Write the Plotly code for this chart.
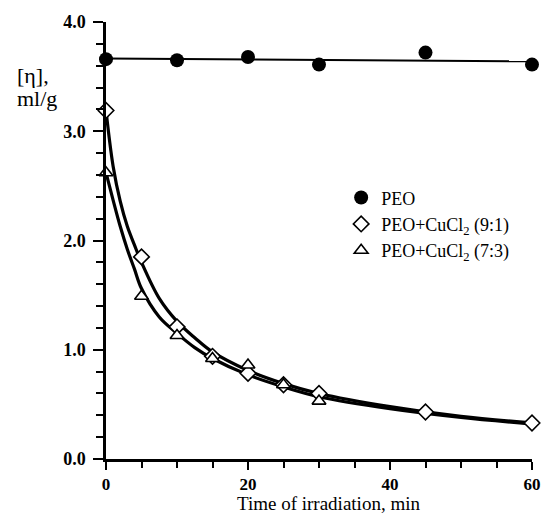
import plotly.graph_objects as go

# ---- data ----
peo_t = [0, 10, 20, 30, 45, 60]
peo_v = [3.66, 3.65, 3.68, 3.61, 3.72, 3.61]
peo_fit_t = [0, 60]
peo_fit_v = [3.665, 3.64]

c91_t = [0, 5, 10, 15, 20, 25, 30, 45, 60]
c91_v = [3.19, 1.85, 1.21, 0.94, 0.785, 0.68, 0.60, 0.43, 0.33]

c73_t = [0, 5, 10, 15, 20, 25, 30]
c73_v = [2.62, 1.49, 1.13, 0.92, 0.86, 0.68, 0.53]

# fitted curves
fit_t = [0, 1, 2, 3, 4, 5, 7.5, 10, 12.5, 15, 20, 25, 30, 40, 50, 60]
fit91_v = [3.19, 2.68, 2.36, 2.13, 1.96, 1.80, 1.47, 1.26, 1.11, 0.98, 0.81, 0.69, 0.60, 0.48, 0.39, 0.33]
fit73_v = [2.62, 2.37, 2.13, 1.92, 1.74, 1.56, 1.30, 1.15, 1.02, 0.92, 0.77, 0.66, 0.57, 0.46, 0.38, 0.32]

x_ticks = [0, 20, 40, 60]
y_ticks = [0, 1, 2, 3, 4]

names = ["PEO", "PEO+CuCl<sub>2</sub> (9:1)", "PEO+CuCl<sub>2</sub> (7:3)"]

SERIF = "Liberation Serif"

fig = go.Figure()

# lines
fig.add_trace(go.Scatter(x=peo_fit_t, y=peo_fit_v, mode="lines",
                         line=dict(color="black", width=2), showlegend=False,
                         cliponaxis=False, hoverinfo="skip"))
fig.add_trace(go.Scatter(x=fit_t, y=fit91_v, mode="lines", line_shape="spline",
                         line=dict(color="black", width=3.2), showlegend=False,
                         cliponaxis=False, hoverinfo="skip"))
fig.add_trace(go.Scatter(x=fit_t, y=fit73_v, mode="lines", line_shape="spline",
                         line=dict(color="black", width=3.2), showlegend=False,
                         cliponaxis=False, hoverinfo="skip"))

# markers
fig.add_trace(go.Scatter(x=peo_t, y=peo_v, mode="markers", name=names[0],
                         marker=dict(symbol="circle", size=14, color="black"),
                         cliponaxis=False))
fig.add_trace(go.Scatter(x=c91_t, y=c91_v, mode="markers", name=names[1],
                         marker=dict(symbol="diamond", size=12, color="white",
                                     line=dict(color="black", width=1.6)),
                         cliponaxis=False))
fig.add_trace(go.Scatter(x=c73_t, y=c73_v, mode="markers", name=names[2],
                         marker=dict(symbol="triangle-up", size=12, color="white",
                                     line=dict(color="black", width=1.6)),
                         cliponaxis=False))

fig.update_layout(
    width=553, height=519,
    margin=dict(l=106, r=12, t=19, b=60),
    paper_bgcolor="white", plot_bgcolor="white",
    font=dict(family=SERIF, color="black"),
    legend=dict(x=0.552, y=0.64, xanchor="left", yanchor="top",
                font=dict(family=SERIF, size=18, color="black"),
                bgcolor="rgba(0,0,0,0)", itemwidth=30, tracegroupgap=0),
    xaxis=dict(range=[0, 60], showline=True, linecolor="black", linewidth=2.5,
               showgrid=False, zeroline=False, ticks="outside", ticklen=8,
               tickwidth=2, tickcolor="black", tickvals=x_ticks,
               ticktext=[str(v) for v in x_ticks],
               tickfont=dict(family=SERIF, size=17, color="black", weight="bold"),
               ticklabelstandoff=0,
               minor=dict(dtick=5, ticks="outside", ticklen=6, tickwidth=2,
                          tickcolor="black", showgrid=False)),
    yaxis=dict(range=[0, 4], showline=True, linecolor="black", linewidth=2.5,
               showgrid=False, zeroline=False, ticks="outside", ticklen=10,
               tickwidth=2, tickcolor="black", tickvals=y_ticks,
               ticktext=[f"{v:.1f}" for v in y_ticks],
               tickfont=dict(family=SERIF, size=18, color="black", weight="bold"),
               ticklabelstandoff=4,
               minor=dict(dtick=0.2, ticks="outside", ticklen=7, tickwidth=2,
                          tickcolor="black", showgrid=False)),
    annotations=[
        dict(text="Time of irradiation, min", xref="paper", yref="paper",
             x=0.522, y=-0.102, xanchor="center", yanchor="middle",
             showarrow=False, font=dict(family=SERIF, size=19, color="black")),
        dict(text="[η],", xref="paper", yref="paper",
             x=-0.213, y=0.877, xanchor="left", yanchor="middle",
             showarrow=False, font=dict(family=SERIF, size=22, color="black")),
        dict(text="ml/g", xref="paper", yref="paper",
             x=-0.213, y=0.825, xanchor="left", yanchor="middle",
             showarrow=False, font=dict(family=SERIF, size=22, color="black")),
    ],
)

fig.write_html("out.html")
